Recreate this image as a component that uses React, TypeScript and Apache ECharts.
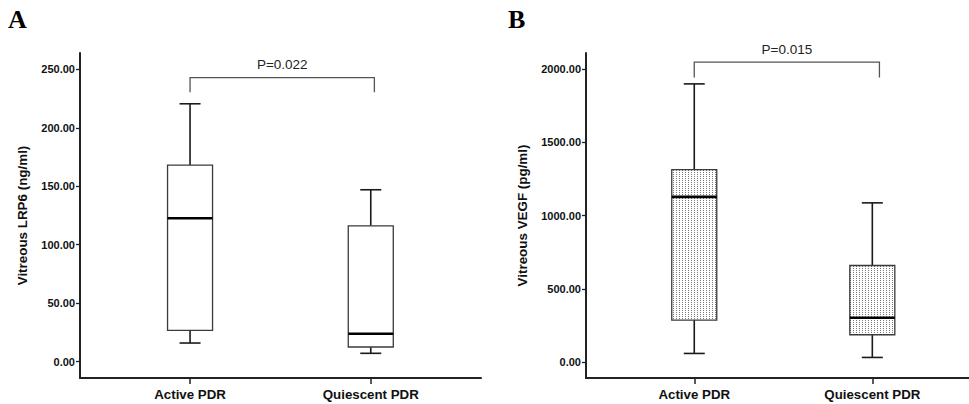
import React, { useEffect, useRef } from 'react';
import * as echarts from 'echarts';

// ---- data ----
const categories = ['Active PDR', 'Quiescent PDR'];
const categoryPositions = [1, 2];

// Vitreous LRP6 (ng/ml)
const lrp6Min = [16.0, 7.2];
const lrp6Q1 = [26.8, 12.6];
const lrp6Median = [122.6, 23.9];
const lrp6Q3 = [168.1, 116.2];
const lrp6Max = [220.5, 147.0];
const lrp6Ticks = [0, 50, 100, 150, 200, 250];

// Vitreous VEGF (pg/ml)
const vegfMin = [58.7, 31.4];
const vegfQ1 = [286.7, 186.3];
const vegfMedian = [1128.3, 302.4];
const vegfQ3 = [1314.7, 659.4];
const vegfMax = [1900, 1087.4];
const vegfTicks = [0, 500, 1000, 1500, 2000];

// significance annotations
const pLabels = ['P=0.022', 'P=0.015'];
const bracketLevel = [242.8, 2048];
const bracketLegEnd = [230.3, 1943];
const bracketRight = [2.02, 2.04];

const FONT = 'Liberation Sans, Arial, Helvetica, sans-serif';

function makeBoxData(mn: number[], q1: number[], md: number[], q3: number[], mx: number[]) {
  return categoryPositions.map((x, i) => [x, mn[i], q1[i], md[i], q3[i], mx[i]]);
}

function makePattern() {
  const c = document.createElement('canvas');
  c.width = 3;
  c.height = 2;
  const ctx = c.getContext('2d')!;
  ctx.fillStyle = '#ffffff';
  ctx.fillRect(0, 0, 3, 2);
  ctx.fillStyle = '#7a7a7a';
  ctx.fillRect(1, 0, 1, 1);
  return { image: c.toDataURL(), repeat: 'repeat', imageWidth: 3, imageHeight: 2 } as any;
}

export default function App() {
  const ref = useRef<HTMLDivElement>(null);

  useEffect(() => {
    if (!ref.current) return;
    const chart = echarts.init(ref.current, undefined, { renderer: 'svg' });
    const dotted = makePattern();

    const boxRender = (fill: any) => (params: any, api: any) => {
      const x = api.value(0);
      const lo = api.coord([x, api.value(1)]);
      const q1 = api.coord([x, api.value(2)]);
      const med = api.coord([x, api.value(3)]);
      const q3 = api.coord([x, api.value(4)]);
      const hi = api.coord([x, api.value(5)]);
      const cx = lo[0];
      const hw = 22.5;
      const cw = 10.5;
      const line = (x1: number, y1: number, x2: number, y2: number, w: number, c = '#1a1a1a') => ({
        type: 'line',
        shape: { x1, y1, x2, y2 },
        style: { stroke: c, lineWidth: w },
      });
      return {
        type: 'group',
        children: [
          line(cx, hi[1], cx, q3[1], 1.6),
          line(cx - cw, hi[1], cx + cw, hi[1], 1.6),
          line(cx, q1[1], cx, lo[1], 1.6),
          line(cx - cw, lo[1], cx + cw, lo[1], 1.6),
          {
            type: 'rect',
            shape: { x: cx - hw, y: q3[1], width: 2 * hw, height: q1[1] - q3[1] },
            style: { fill, stroke: '#3a3a3a', lineWidth: 1.3 },
          },
          line(cx - hw, med[1], cx + hw, med[1], 2.6, '#000'),
        ],
      };
    };

    const bracketRender = (label: string) => (params: any, api: any) => {
      const x1 = api.value(0);
      const x2 = api.value(1);
      const lvl = api.value(2);
      const leg = api.value(3);
      const a = api.coord([x1, lvl]);
      const b = api.coord([x2, lvl]);
      const aEnd = api.coord([x1, leg]);
      const bEnd = api.coord([x2, leg]);
      const st = { stroke: '#555', lineWidth: 1.3, fill: 'none' };
      return {
        type: 'group',
        children: [
          { type: 'polyline', shape: { points: [aEnd, a, b, bEnd] }, style: st },
          {
            type: 'text',
            x: (a[0] + b[0]) / 2,
            y: a[1] - 13,
            style: {
              text: label,
              fill: '#222',
              font: `13.5px ${FONT}`,
              align: 'center',
              verticalAlign: 'middle',
            },
          },
        ],
      };
    };

    const xAxisBase = (gridIndex: number, min: number, max: number) => ({
      type: 'value',
      gridIndex,
      min,
      max,
      axisLine: { show: true, onZero: false, lineStyle: { color: '#222', width: 2 } },
      axisTick: { show: true, customValues: categoryPositions, length: 6, lineStyle: { color: '#222', width: 1.5 } },
      axisLabel: {
        show: true,
        customValues: categoryPositions,
        formatter: (v: number) => categories[Math.round(v) - 1] ?? '',
        fontFamily: FONT,
        fontWeight: 'bold',
        fontSize: 13.3,
        color: '#111',
        margin: 10,
      },
      splitLine: { show: false },
    });

    const yAxisBase = (gridIndex: number, min: number, max: number, ticks: number[], name: string, nameGap: number) => ({
      type: 'value',
      gridIndex,
      min,
      max,
      name,
      nameLocation: 'middle',
      nameGap,
      nameRotate: 90,
      nameTextStyle: { fontFamily: FONT, fontWeight: 'bold', fontSize: 13.4, color: '#111' },
      axisLine: { show: true, onZero: false, lineStyle: { color: '#222', width: 2 } },
      axisTick: { show: true, customValues: ticks, length: 4, lineStyle: { color: '#222', width: 1.3 } },
      axisLabel: {
        show: true,
        customValues: ticks,
        formatter: (v: number) => v.toFixed(2),
        fontFamily: FONT,
        fontWeight: 'bold',
        fontSize: 11,
        color: '#111',
        margin: 5,
      },
      splitLine: { show: false },
    });

    chart.setOption({
      animation: false,
      backgroundColor: '#ffffff',
      grid: [
        { left: 80, top: 53, width: 401, height: 325 },
        { left: 586, top: 53, width: 383, height: 325 },
      ],
      xAxis: [xAxisBase(0, 0.391, 2.61), xAxisBase(1, 0.392, 2.543)],
      yAxis: [
        yAxisBase(0, -13.9, 263.9, lrp6Ticks, 'Vitreous LRP6 (ng/ml)', 51),
        yAxisBase(1, -109, 2111, vegfTicks, 'Vitreous VEGF (pg/ml)', 57),
      ],
      graphic: [
        { type: 'text', left: 8, top: 6, style: { text: 'A', font: 'bold 26px Liberation Serif, Times New Roman, serif', fill: '#000' } },
        { type: 'text', left: 508, top: 6, style: { text: 'B', font: 'bold 26px Liberation Serif, Times New Roman, serif', fill: '#000' } },
      ],
      series: [
        {
          type: 'custom',
          xAxisIndex: 0,
          yAxisIndex: 0,
          renderItem: boxRender('#ffffff'),
          encode: { x: 0, y: [1, 2, 3, 4, 5] },
          data: makeBoxData(lrp6Min, lrp6Q1, lrp6Median, lrp6Q3, lrp6Max),
        },
        {
          type: 'custom',
          xAxisIndex: 1,
          yAxisIndex: 1,
          renderItem: boxRender(dotted),
          encode: { x: 0, y: [1, 2, 3, 4, 5] },
          data: makeBoxData(vegfMin, vegfQ1, vegfMedian, vegfQ3, vegfMax),
        },
        {
          type: 'custom',
          xAxisIndex: 0,
          yAxisIndex: 0,
          clip: false,
          renderItem: bracketRender(pLabels[0]),
          encode: { x: [0, 1], y: [2, 3] },
          data: [[categoryPositions[0], bracketRight[0], bracketLevel[0], bracketLegEnd[0]]],
        },
        {
          type: 'custom',
          xAxisIndex: 1,
          yAxisIndex: 1,
          clip: false,
          renderItem: bracketRender(pLabels[1]),
          encode: { x: [0, 1], y: [2, 3] },
          data: [[categoryPositions[0], bracketRight[1], bracketLevel[1], bracketLegEnd[1]]],
        },
      ],
    });

    return () => chart.dispose();
  }, []);

  return (
    <div
      ref={ref}
      style={{ position: 'fixed', left: 0, top: 0, width: 969, height: 404, background: '#fff' }}
    />
  );
}
